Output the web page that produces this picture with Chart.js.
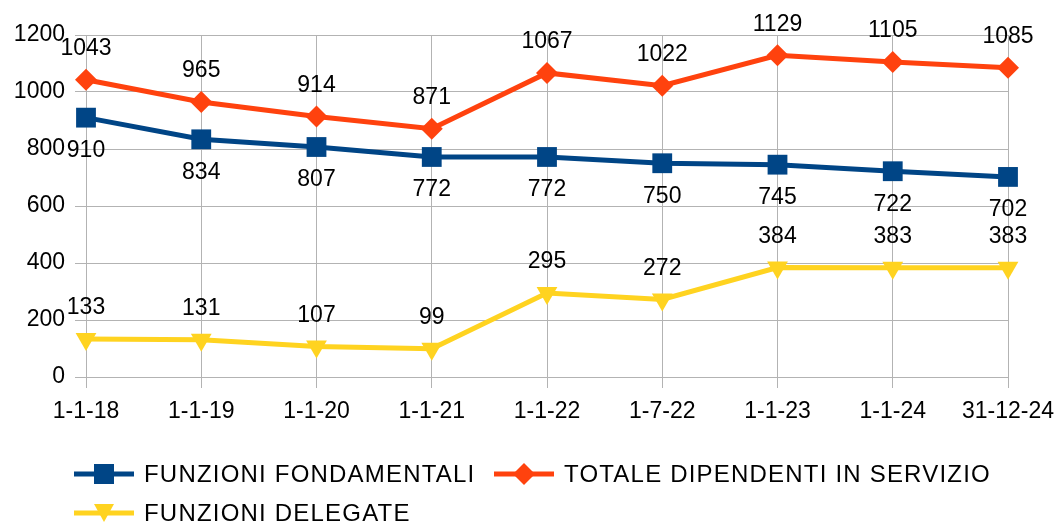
<!DOCTYPE html>
<html>
<head>
<meta charset="utf-8">
<script src="https://cdn.jsdelivr.net/npm/chart.js@4/dist/chart.umd.min.js"></script>
<style>
  html, body { margin:0; padding:0; background:#fff; }
  #wrap { position:relative; width:1061px; height:522px; }
  #c { position:absolute; left:0; top:0; }
  .leg { position:absolute; font-family:"Liberation Sans", Arial, sans-serif; font-size:24px; letter-spacing:1.2px; color:#000; display:flex; align-items:center; white-space:nowrap; }
  .leg svg { margin-right:10px; }
</style>
</head>
<body>
<div id="wrap">
  <canvas id="c" width="1061" height="522"></canvas>
  <div class="leg" style="left:74px; top:460px;">
    <svg width="60" height="28"><line x1="0" y1="14" x2="60" y2="14" stroke="#004586" stroke-width="5"/><rect x="20" y="4" width="20" height="20" fill="#004586"/></svg>FUNZIONI FONDAMENTALI</div>
  <div class="leg" style="left:494px; top:460px;">
    <svg width="60" height="28"><line x1="0" y1="14" x2="60" y2="14" stroke="#ff420e" stroke-width="5"/><polygon points="30,3 41,14 30,25 19,14" fill="#ff420e"/></svg>TOTALE DIPENDENTI IN SERVIZIO</div>
  <div class="leg" style="left:74px; top:499px;">
    <svg width="60" height="28"><line x1="0" y1="14" x2="60" y2="14" stroke="#ffd320" stroke-width="5"/><polygon points="20,5 40,5 30,23" fill="#ffd320"/></svg>FUNZIONI DELEGATE</div>
</div>
<script>
const categories = ['1-1-18','1-1-19','1-1-20','1-1-21','1-1-22','1-7-22','1-1-23','1-1-24','31-12-24'];
const fondamentali = [910, 834, 807, 772, 772, 750, 745, 722, 702];
const totale = [1043, 965, 914, 871, 1067, 1022, 1129, 1105, 1085];
const delegate = [133, 131, 107, 99, 295, 272, 384, 383, 383];
const seriesNames = ['FUNZIONI FONDAMENTALI', 'TOTALE DIPENDENTI IN SERVIZIO', 'FUNZIONI DELEGATE'];

const FONT = '"Liberation Sans", Arial, sans-serif';
const labelOffsets = [33, -31, -31];

const dataLabels = {
  id: 'dataLabels',
  afterDatasetsDraw(chart) {
    const ctx = chart.ctx;
    ctx.save();
    ctx.font = '23px ' + FONT;
    ctx.fillStyle = '#000';
    ctx.textAlign = 'center';
    ctx.textBaseline = 'middle';
    chart.data.datasets.forEach((ds, di) => {
      const meta = chart.getDatasetMeta(di);
      meta.data.forEach((el, i) => {
        ctx.fillText(String(ds.data[i]), el.x, el.y + labelOffsets[di]);
      });
    });
    ctx.restore();
  }
};

new Chart(document.getElementById('c'), {
  type: 'line',
  data: {
    labels: categories,
    datasets: [
      { label: seriesNames[0], data: fondamentali, borderColor: '#004586', backgroundColor: '#004586',
        borderWidth: 5, pointStyle: 'rect', pointRadius: 14, pointBorderWidth: 0, pointHoverRadius: 14, tension: 0 },
      { label: seriesNames[1], data: totale, borderColor: '#ff420e', backgroundColor: '#ff420e',
        borderWidth: 5, pointStyle: 'rectRot', pointRadius: 11, pointBorderWidth: 0, pointHoverRadius: 11, tension: 0 },
      { label: seriesNames[2], data: delegate, borderColor: '#ffd320', backgroundColor: '#ffd320',
        borderWidth: 5, pointStyle: 'triangle', pointRotation: 180, pointRadius: 12, pointBorderWidth: 0, pointHoverRadius: 12, tension: 0 }
    ]
  },
  options: {
    responsive: false,
    animation: false,
    events: [],
    layout: { padding: { left: 0, top: 35, right: 53, bottom: 85 } },
    plugins: { legend: { display: false }, tooltip: { enabled: false } },
    scales: {
      x: {
        offset: false,
        grid: { color: '#b3b3b3', lineWidth: 1, tickLength: 11, drawTicks: true },
        border: { color: '#b3b3b3' },
        ticks: { color: '#000', font: { family: FONT, size: 23 }, padding: 10, maxRotation: 0, autoSkip: false },
        afterFit(s) { s.height = 60; s.paddingLeft = 0; s.paddingRight = 0; }
      },
      y: {
        min: 0, max: 1200,
        grid: { color: '#b3b3b3', lineWidth: 1, tickLength: 11, drawTicks: true },
        border: { color: '#b3b3b3' },
        ticks: { stepSize: 100, color: '#000', font: { family: FONT, size: 23 }, padding: 10,
          callback: v => (v % 200 === 0 ? v : '') },
        afterFit(s) { s.width = 86; s.paddingTop = 0; s.paddingBottom = 0; }
      }
    }
  },
  plugins: [dataLabels]
});
</script>
</body>
</html>
